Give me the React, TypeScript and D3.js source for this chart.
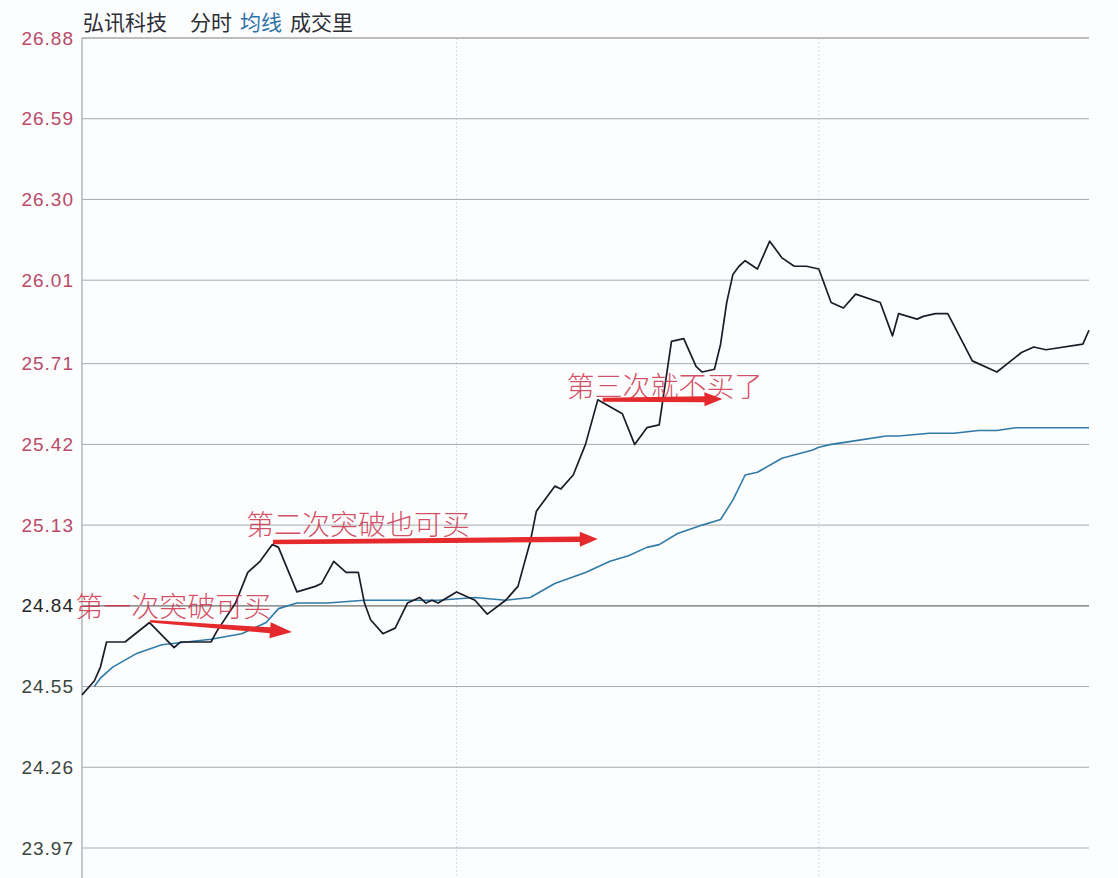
import React from 'react';
import * as d3 from 'd3';

const title = '弘讯科技';
const menuItems = ['分时', '均线', '成交里'];
const yTicks = [26.88, 26.59, 26.3, 26.01, 25.71, 25.42, 25.13, 24.84, 24.55, 24.26, 23.97];
const yTickLabels = ['26.88', '26.59', '26.30', '26.01', '25.71', '25.42', '25.13', '24.84', '24.55', '24.26', '23.97'];
const prevClose = 24.84;
const minuteMarks = [61, 120];

const priceMinutes = [0, 2, 3, 4, 7, 11, 15, 16, 18, 21, 22, 25, 27, 29, 31, 32, 35, 38, 39, 41, 43, 45, 46, 47, 49, 51, 53, 55, 56, 57, 58, 61, 64, 66, 69, 71, 73, 74, 77, 78, 80, 82, 84, 88, 90, 92, 94, 96, 98, 100, 101, 103, 104, 105, 106, 107, 108, 110, 112, 114, 116, 118, 120, 122, 124, 126, 130, 132, 133, 136, 137, 139, 141, 145, 149, 153, 155, 157, 163, 164];
const priceValues = [24.52, 24.57, 24.62, 24.71, 24.71, 24.78, 24.69, 24.71, 24.71, 24.71, 24.75, 24.85, 24.96, 25.0, 25.06, 25.05, 24.89, 24.91, 24.92, 25.0, 24.96, 24.96, 24.85, 24.79, 24.74, 24.76, 24.85, 24.87, 24.85, 24.86, 24.85, 24.89, 24.86, 24.81, 24.86, 24.91, 25.07, 25.18, 25.27, 25.26, 25.31, 25.42, 25.58, 25.53, 25.42, 25.48, 25.49, 25.79, 25.8, 25.7, 25.68, 25.69, 25.78, 25.93, 26.03, 26.06, 26.08, 26.05, 26.15, 26.09, 26.06, 26.06, 26.05, 25.93, 25.91, 25.96, 25.93, 25.81, 25.89, 25.87, 25.88, 25.89, 25.89, 25.72, 25.68, 25.75, 25.77, 25.76, 25.78, 25.83];

const avgMinutes = [2, 3, 5, 9, 13, 21, 26, 30, 32, 35, 40, 46, 51, 58, 64, 69, 73, 77, 82, 86, 89, 92, 94, 97, 101, 104, 106, 108, 110, 114, 119, 120, 122, 125, 131, 133, 138, 142, 146, 149, 152, 159, 161, 164];
const avgValues = [24.55, 24.58, 24.62, 24.67, 24.7, 24.72, 24.74, 24.78, 24.83, 24.85, 24.85, 24.86, 24.86, 24.86, 24.87, 24.86, 24.87, 24.92, 24.96, 25.0, 25.02, 25.05, 25.06, 25.1, 25.13, 25.15, 25.22, 25.31, 25.32, 25.37, 25.4, 25.41, 25.42, 25.43, 25.45, 25.45, 25.46, 25.46, 25.47, 25.47, 25.48, 25.48, 25.48, 25.48];

const noteTexts = ['第一次突破可买', '第二次突破也可买', '第三次就不买了'];
const noteMinutes = [-1.1, 26.7, 78.9];
const notePrices = [24.843, 25.138, 25.633];

const arrowStartMinutes = [11.1, 31.1, 84.8];
const arrowStartPrices = [24.785, 25.069, 25.58];
const arrowEndMinutes = [34.2, 84.0, 104.3];
const arrowEndPrices = [24.746, 25.08, 25.583];

const W = 1118;
const H = 878;
const left = 82;
const right = 1089;
const top = 38;
const bottom = 848;

function arrowPath(x0: number, y0: number, x1: number, y1: number, w0: number, w1: number, hl: number, hw: number) {
  const dx = x1 - x0;
  const dy = y1 - y0;
  const len = Math.hypot(dx, dy);
  const ux = dx / len;
  const uy = dy / len;
  const nx = -uy;
  const ny = ux;
  const bx = x1 - ux * hl;
  const by = y1 - uy * hl;
  const p = d3.path();
  p.moveTo(x0 + (nx * w0) / 2, y0 + (ny * w0) / 2);
  p.lineTo(bx + (nx * w1) / 2, by + (ny * w1) / 2);
  p.lineTo(bx + (nx * hw) / 2, by + (ny * hw) / 2);
  p.lineTo(x1, y1);
  p.lineTo(bx - (nx * hw) / 2, by - (ny * hw) / 2);
  p.lineTo(bx - (nx * w1) / 2, by - (ny * w1) / 2);
  p.lineTo(x0 - (nx * w0) / 2, y0 - (ny * w0) / 2);
  p.closePath();
  return p.toString();
}

export default function App() {
  const x = d3.scaleLinear().domain([0, 164]).range([left, right]);
  const y = d3.scaleLinear().domain([23.97, 26.88]).range([bottom, top]);

  const line = d3
    .line<[number, number]>()
    .x((d) => x(d[0]))
    .y((d) => y(d[1]));

  const pricePts: [number, number][] = priceMinutes.map((m, i) => [m, priceValues[i]]);
  const avgPts: [number, number][] = avgMinutes.map((m, i) => [m, avgValues[i]]);

  const labelColor = (v: number) => (v > prevClose ? '#b94a68' : v < prevClose ? '#3a4640' : '#262626');

  const arrowWidths = [
    [2.5, 6, 22, 16],
    [4.5, 5.5, 18, 15],
    [4, 6, 18, 14],
  ];

  const menuX = [190, 240, 290];

  return (
    <svg
      width={W}
      height={H}
      style={{ position: 'absolute', left: 0, top: 0, background: '#fcfdff' }}
      fontFamily="'Noto Sans CJK SC', 'Noto Sans', sans-serif"
    >
      <defs>
        <filter id="soft" x="-5%" y="-50%" width="110%" height="200%">
          <feGaussianBlur stdDeviation="0.7" />
        </filter>
      </defs>
      <rect x={0} y={0} width={W} height={H} fill="#fcfdff" />

      {/* header */}
      <text x={83} y={21} fontSize={21} fill="#2e2e36" dominantBaseline="central">
        {title}
      </text>
      {menuItems.map((t, i) => (
        <text
          key={t}
          x={menuX[i]}
          y={21}
          fontSize={21}
          fill={i === 1 ? '#2f72a8' : '#2e2e36'}
          dominantBaseline="central"
        >
          {t}
        </text>
      ))}

      {/* vertical time marks */}
      {minuteMarks.map((m) => (
        <line
          key={m}
          x1={x(m)}
          x2={x(m)}
          y1={top}
          y2={H}
          stroke="#d6dae2"
          strokeWidth={1}
          strokeDasharray="2,2"
        />
      ))}

      {/* horizontal grid */}
      {yTicks.map((v, i) =>
        i === 0 ? (
          <line key={v} x1={left} x2={right} y1={y(v)} y2={y(v)} stroke="#bdbdbd" strokeWidth={2} />
        ) : (
          <line
            key={v}
            x1={left}
            x2={right}
            y1={y(v)}
            y2={y(v)}
            stroke={v === prevClose ? '#6e6e6e' : '#a9a9ad'}
            strokeWidth={v === prevClose ? 1.3 : 1}
          />
        )
      )}

      {/* left axis */}
      <line x1={left} x2={left} y1={top} y2={H} stroke="#b4b4b8" strokeWidth={1.5} />

      {/* y labels */}
      {yTicks.map((v, i) => (
        <text
          key={'l' + v}
          x={74}
          y={y(v)}
          textAnchor="end"
          dominantBaseline="central"
          fontFamily="'Liberation Sans', Arial, sans-serif"
          fontSize={19}
          letterSpacing={1}
          fill={labelColor(v)}
        >
          {yTickLabels[i]}
        </text>
      ))}

      {/* average line */}
      <path d={line(avgPts) || ''} fill="none" stroke="#2f7aa6" strokeWidth={1.6} strokeLinejoin="round" />
      {/* price line */}
      <path d={line(pricePts) || ''} fill="none" stroke="#1c1c28" strokeWidth={1.7} strokeLinejoin="round" />

      {/* annotations */}
      {noteTexts.map((t, i) => (
        <text
          key={t}
          x={x(noteMinutes[i])}
          y={y(notePrices[i])}
          fontSize={28}
          fontWeight={300}
          fill="#cc3048"
          fillOpacity={0.85}
          dominantBaseline="central"
        >
          {t}
        </text>
      ))}
      {noteTexts.map((t, i) => {
        const [w0, w1, hl, hw] = arrowWidths[i];
        return (
          <path
            key={'a' + t}
            d={arrowPath(
              x(arrowStartMinutes[i]),
              y(arrowStartPrices[i]),
              x(arrowEndMinutes[i]),
              y(arrowEndPrices[i]),
              w0,
              w1,
              hl,
              hw
            )}
            fill="#e52a2e"
            filter="url(#soft)"
          />
        );
      })}
    </svg>
  );
}
